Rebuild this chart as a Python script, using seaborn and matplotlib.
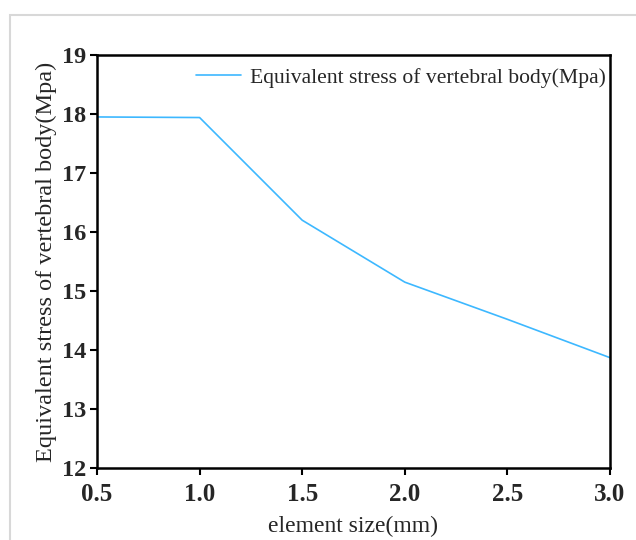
import pandas as pd
import matplotlib
matplotlib.use("Agg")
import matplotlib.pyplot as plt
import seaborn as sns
from matplotlib.patches import Rectangle

# ข้อมูลจากกราฟ
element_size = [0.5, 1.0, 1.5, 2.0, 2.5, 3.0]
stress = [17.95, 17.94, 16.20, 15.15, 14.52, 13.87]
series_name = "Equivalent stress of vertebral body(Mpa)"
x_ticks = [0.5, 1.0, 1.5, 2.0, 2.5, 3.0]
y_ticks = [12, 13, 14, 15, 16, 17, 18, 19]

df = pd.DataFrame({"size": element_size, "stress": stress, "series": series_name})

sns.set_style("white")
plt.rcParams["font.family"] = ["Liberation Serif", "DejaVu Serif"]

fig = plt.figure(figsize=(6.36, 5.4), dpi=100)
ax = fig.add_axes([97 / 636, 1 - 468 / 540, (610 - 97) / 636, (468 - 55) / 540])

sns.lineplot(data=df, x="size", y="stress", hue="series", palette=["#3db8ff"],
             linewidth=1.2, ax=ax)

ax.set_xlim(0.5, 3.0)
ax.set_ylim(12, 19)
ax.set_xticks(x_ticks)
ax.set_yticks(y_ticks)
ax.set_xticklabels([f"{v:.1f}" for v in x_ticks], fontsize=18, fontweight="bold")
ax.set_yticklabels([str(v) for v in y_ticks], fontsize=17.5, fontweight="bold")
ax.tick_params(axis="x", direction="out", length=5, width=1.5, color="black", pad=6)
ax.tick_params(axis="y", direction="out", length=5, width=1.5, color="black", pad=3)
ax.tick_params(bottom=True, left=True)
for s in ax.spines.values():
    s.set_linewidth(1.8)
    s.set_color("black")

ax.set_xlabel("element size(mm)", fontsize=17, labelpad=7)
ax.set_ylabel("Equivalent stress of vertebral body(Mpa)", fontsize=17.5, labelpad=3)

leg = ax.legend(loc="upper right", bbox_to_anchor=(1.0, 0.98), frameon=False,
                fontsize=15.6, handlelength=2.1, borderaxespad=0.0,
                handletextpad=0.4, borderpad=0.2)

# light grey frame round the figure
fig.patches.append(Rectangle((10 / 636, -0.1), 1.2, 1 - 15 / 540 + 0.1,
                             transform=fig.transFigure, fill=False,
                             edgecolor="#d8d8d8", linewidth=1.5))

fig.savefig("out.png", dpi=100)
plt.close(fig)
